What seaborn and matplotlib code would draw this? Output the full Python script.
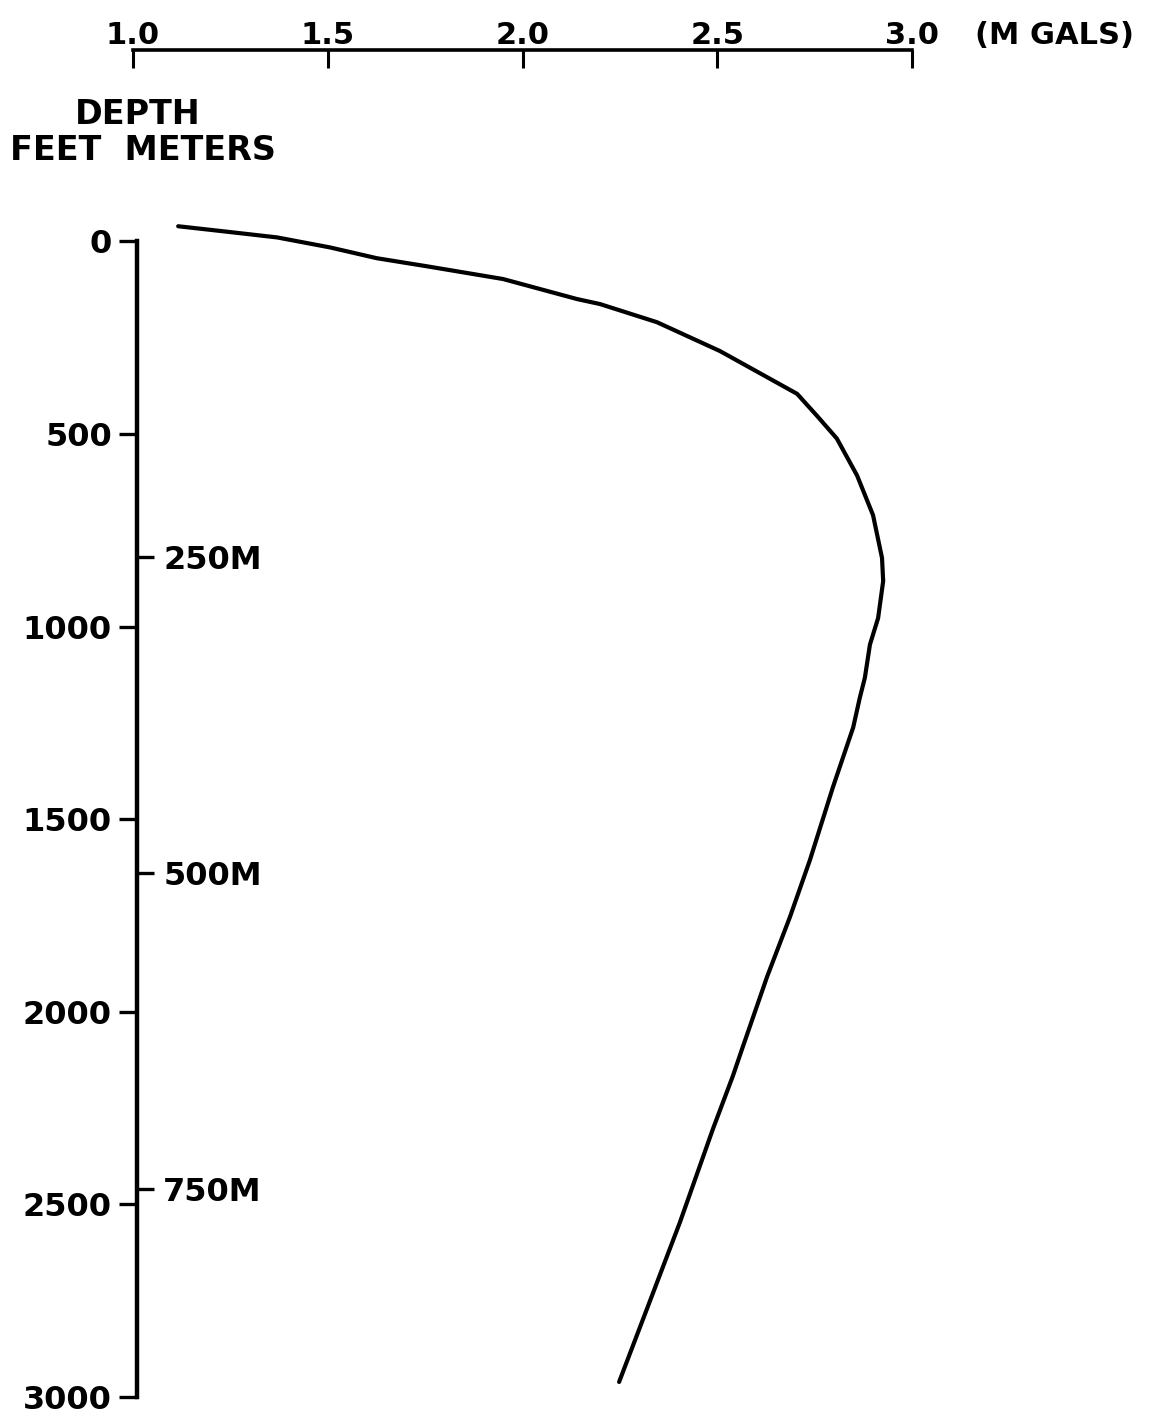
import matplotlib
matplotlib.use("Agg")
import matplotlib.pyplot as plt
import seaborn as sns
import pandas as pd

# values
depth_ft = [-39, -26, -10, 16, 44, 65, 98, 150, 163, 210, 285, 396, 453, 512, 608,
            711, 822, 882, 978, 1047, 1133, 1185, 1262, 1417, 1606, 1753, 1909,
            2090, 2167, 2304, 2547, 2770, 2961]
mgals = [1.116, 1.231, 1.370, 1.506, 1.626, 1.755, 1.950, 2.140, 2.199, 2.345,
         2.507, 2.705, 2.756, 2.807, 2.859, 2.900, 2.923, 2.926, 2.913, 2.892,
         2.879, 2.866, 2.849, 2.797, 2.738, 2.687, 2.628, 2.566, 2.540, 2.489,
         2.404, 2.320, 2.248]

x_ticks = [1.0, 1.5, 2.0, 2.5, 3.0]
feet_ticks = [0, 500, 1000, 1500, 2000, 2500, 3000]
meter_ticks = [250, 500, 750]
meter_labels = ["250M", "500M", "750M"]

df = pd.DataFrame({"mgals": mgals, "depth": depth_ft})

sns.set_style("white", {"axes.edgecolor": "black", "text.color": "black",
                        "xtick.color": "black", "ytick.color": "black"})
plt.rcParams["font.family"] = ["DejaVu Sans"]
plt.rcParams["font.weight"] = "bold"

W, H = 1168, 1417
fig = plt.figure(figsize=(W / 100, H / 100), dpi=100)
ax = fig.add_axes([133 / W, 20 / H, 779 / W, 1347 / H])

sns.lineplot(data=df, x="mgals", y="depth", orient="y", estimator=None,
             color="black", linewidth=3, ax=ax)

ax.set_xlim(1.0, 3.0)
ax.set_ylim(3000, -496.5)
ax.set_xlabel("")
ax.set_ylabel("")

# top scale
ax.xaxis.tick_top()
ax.set_xticks(x_ticks, labels=[f"{v:.1f}" for v in x_ticks])
ax.tick_params(axis="x", direction="in", length=13, width=2.2, pad=0,
               labelsize=22, top=True, bottom=False, colors="black")
ax.spines["top"].set_bounds(1.0, 3.0)
ax.spines["top"].set_linewidth(2.6)

# depth in feet
ax.set_yticks(feet_ticks)
ax.tick_params(axis="y", direction="out", length=13, width=2.4, pad=5,
               labelsize=23, left=True, colors="black")
ax.spines["left"].set_bounds(0, 3000)
ax.spines["left"].set_linewidth(3.2)
ax.spines["left"].set_position(("axes", 0.005))
ax.spines["right"].set_visible(False)
ax.spines["bottom"].set_visible(False)

# depth in meters
sec = ax.secondary_yaxis(0.005, functions=(lambda f: f * 0.3048, lambda m: m / 0.3048))
sec.set_alignment("right")
sec.set_yticks(meter_ticks, labels=meter_labels)
sec.tick_params(axis="y", direction="out", length=12, width=2.4, pad=7,
                labelsize=23, colors="black")
for s in sec.spines.values():
    s.set_visible(False)

fig.text(975 / W, 1 - 36 / H, "(M GALS)", fontsize=22, va="center", ha="left")
fig.text(75 / W, 1 - 114 / H, "DEPTH", fontsize=24, va="center", ha="left")
fig.text(10 / W, 1 - 150 / H, "FEET  METERS", fontsize=24, va="center", ha="left")

fig.savefig("out.png", dpi=100, facecolor="white")
